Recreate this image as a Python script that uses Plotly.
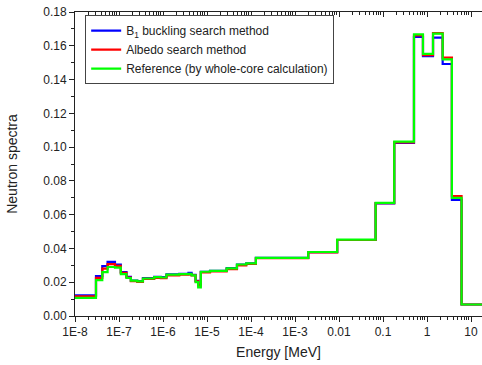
import plotly.graph_objects as go

# Energy group boundaries [MeV]
edges = [1e-8, 3e-8, 4.17e-8, 5.5e-8, 8.1e-8, 1.1e-7, 1.48e-7, 1.86e-7, 2.6e-7,
         3.5e-7, 6.3e-7, 8.9e-7, 1.2e-6, 2.34e-6, 3.8e-6, 4.47e-6, 5.5e-6, 6.3e-6,
         7.24e-6, 1.17e-5, 2.8e-5, 4.8e-5, 7.8e-5, 1.29e-4, 2.0e-3, 9.1e-3, 0.068,
         0.18, 0.506, 0.81, 1.37, 2.27, 3.68, 6.1, 20.0]

b1 = [0.0122, 0.0236, 0.0295, 0.0320, 0.0305, 0.0260, 0.0232, 0.0210, 0.0206,
      0.0224, 0.0232, 0.0230, 0.0247, 0.0250, 0.0255, 0.0244, 0.0208, 0.0185,
      0.0262, 0.0268, 0.0283, 0.0305, 0.0312, 0.0344, 0.0378, 0.0450, 0.0667,
      0.1025, 0.1652, 0.1538, 0.1648, 0.1492, 0.0688, 0.0068]
albedo = [0.0117, 0.0226, 0.0281, 0.0307, 0.0297, 0.0255, 0.0228, 0.0207, 0.0202,
          0.0220, 0.0226, 0.0224, 0.0241, 0.0245, 0.0247, 0.0240, 0.0205, 0.0180,
          0.0258, 0.0264, 0.0278, 0.0300, 0.0308, 0.0342, 0.0377, 0.0450, 0.0668,
          0.1028, 0.1662, 0.1545, 0.1675, 0.1530, 0.0710, 0.0068]
reference = [0.0107, 0.0212, 0.0260, 0.0290, 0.0287, 0.0248, 0.0225, 0.0210, 0.0205,
             0.0222, 0.0230, 0.0228, 0.0245, 0.0248, 0.0250, 0.0241, 0.0200, 0.0170,
             0.0262, 0.0267, 0.0282, 0.0305, 0.0312, 0.0344, 0.0379, 0.0452, 0.0670,
             0.1032, 0.1668, 0.1552, 0.1672, 0.1520, 0.0700, 0.0068]

series = [
    ("B<sub>1</sub> buckling search method", b1, "#0000FF"),
    ("Albedo search method", albedo, "#FF0000"),
    ("Reference (by whole-core calculation)", reference, "#00FF00"),
]

tick_vals = [1e-8, 1e-7, 1e-6, 1e-5, 1e-4, 1e-3, 1e-2, 1e-1, 1, 10]
tick_text = ["1E-8", "1E-7", "1E-6", "1E-5", "1E-4", "1E-3", "0.01", "0.1", "1", "10"]
minor_vals = [m * 10.0 ** d for d in range(-8, 2) for m in range(2, 10)]

FONT = "Liberation Sans"

fig = go.Figure()
for name, vals, col in series:
    fig.add_trace(go.Scatter(
        x=edges, y=list(vals) + [vals[-1]], mode="lines", name=name,
        line=dict(color=col, width=2.2, shape="hv"),
    ))

fig.update_layout(
    width=482, height=365,
    margin=dict(l=75, r=0, t=12, b=49),
    paper_bgcolor="white", plot_bgcolor="white",
    font=dict(family=FONT, size=12, color="#222"),
    showlegend=True,
    legend=dict(x=0.025, y=0.99, xanchor="left", yanchor="top",
                bordercolor="#444", borderwidth=1, bgcolor="white",
                font=dict(size=12, family=FONT, color="#222"),
                tracegroupgap=0, itemwidth=30),
    xaxis=dict(
        type="log", range=[-8, 1.25],
        tickvals=tick_vals, ticktext=tick_text,
        ticks="outside", ticklen=5, tickwidth=1, tickcolor="#222",
        showline=True, linecolor="#222", linewidth=1,
        showgrid=False, zeroline=False,
        minor=dict(tickvals=minor_vals, ticks="outside", ticklen=3,
                   tickcolor="#222", showgrid=False),
        tickfont=dict(size=12),
        title=dict(text="Energy [MeV]", font=dict(size=14), standoff=8),
    ),
    xaxis2=dict(
        type="log", range=[-8, 1.25], overlaying="x", side="top",
        tickvals=tick_vals, showticklabels=False,
        ticks="inside", ticklen=5, tickcolor="#222",
        showline=True, linecolor="#222", linewidth=1,
        showgrid=False, zeroline=False,
        minor=dict(tickvals=minor_vals, ticks="inside", ticklen=3,
                   tickcolor="#222", showgrid=False),
    ),
    yaxis=dict(
        range=[0, 0.18], dtick=0.02, tickformat=".2f",
        ticks="outside", ticklen=5, tickwidth=1, tickcolor="#222",
        showline=True, linecolor="#222", linewidth=1,
        showgrid=False, zeroline=False,
        minor=dict(dtick=0.01, ticks="outside", ticklen=3,
                   tickcolor="#222", showgrid=False),
        tickfont=dict(size=12),
        title=dict(text="Neutron spectra", font=dict(size=14), standoff=22),
    ),
)

# invisible trace to anchor the top axis
fig.add_trace(go.Scatter(x=[edges[0]], y=[0], xaxis="x2", mode="markers",
                         marker=dict(opacity=0), showlegend=False, hoverinfo="skip"))

fig.write_html("out.html")
